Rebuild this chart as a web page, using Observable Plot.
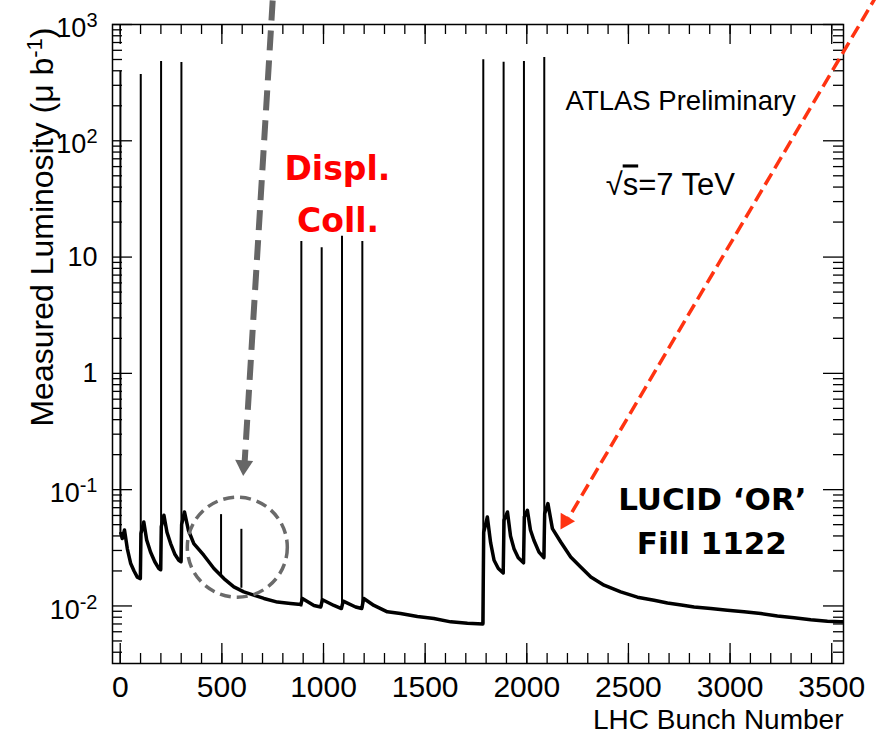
<!DOCTYPE html>
<html><head><meta charset="utf-8">
<script src="https://cdn.jsdelivr.net/npm/d3@7"></script>
<script src="https://cdn.jsdelivr.net/npm/@observablehq/plot@0.6"></script>
<style>
html,body{margin:0;padding:0;background:#fff;}
</style>
</head><body><div id="chart"></div>
<script>
// ---- Background (unpaired-bunch afterglow) curve ----
const bgBunch = [3,10,21,35,51,68,84,99,
  102,116,130,149,170,190,199,
  202,215,230,248,268,288,299,
  302,316,335,362,411,461,510,559,608,657,707,773,838,
  889,896,953,986,995,1051,1088,1097,1158,1188,1198,1248,1314,1379,1462,1543,1626,1708,1784,
  1788,1806,1822,1839,1860,1884,
  1888,1905,1920,1937,1958,1984,
  1988,2003,2018,2035,2060,2084,
  2088,2104,2126,2167,2216,2265,2315,2380,2462,2544,2626,2692,2760,2823,2905,2987,3069,3151,3233,3315,3397,3479,3545,3558];
const bgLumi = [0.042,0.038,0.045,0.031,0.0233,0.020,0.0177,0.0172,
  0.042,0.0527,0.037,0.0291,0.024,0.0210,0.0205,
  0.048,0.0603,0.043,0.0344,0.028,0.0247,0.0240,
  0.050,0.0643,0.045,0.0344,0.0273,0.0210,0.0172,0.0146,0.0132,0.0124,0.0116,0.0108,0.0105,
  0.0103,0.0116,0.0101,0.0098,0.0113,0.0101,0.0095,0.0110,0.0098,0.0095,0.0116,0.0101,0.0089,0.0086,0.0081,0.0078,0.0073,0.0071,0.0070,
  0.043,0.0582,0.035,0.0247,0.021,0.0192,
  0.0546,0.0643,0.040,0.0311,0.026,0.0235,
  0.0582,0.0665,0.045,0.0367,0.029,0.026,
  0.0622,0.0759,0.0462,0.0355,0.0264,0.0216,0.0177,0.0151,0.0132,0.0119,0.0112,0.0106,0.0102,0.0098,0.0095,0.0092,0.0089,0.0086,0.0082,0.0079,0.0076,0.0074,0.0073,0.0073];

// ---- Single-bunch spikes (colliding / displaced / small) ----
const spikeBunch = [1,101,201,301,496,596,891,991,1091,1191,1786,1886,1986,2086];
const spikePeak  = [397,372,481,471,0.061,0.0456,13.6,12.0,15.1,13.6,497,474,481,520];
const spikeBase  = [0.042,0.0172,0.0205,0.024,0.0177,0.0142,0.0098,0.0098,0.0095,0.0095,0.0070,0.0192,0.0235,0.026];

// ---- Axis ticks ----
const xMajorTicks = [0,500,1000,1500,2000,2500,3000,3500];
const xMinorTicks = [0,100,200,300,400,500,600,700,800,900,1000,1100,1200,1300,1400,1500,1600,1700,1800,1900,2000,2100,2200,2300,2400,2500,2600,2700,2800,2900,3000,3100,3200,3300,3400,3500];
const yMajorTicks = [0.01,0.1,1,10,100,1000];
const yTickLabels = ["10^-2","10^-1","1","10","10^2","10^3"];
const yMinorMultipliers = [2,3,4,5,6,7,8,9];
const yMinorDecades = [0.001,0.01,0.1,1,10,100];

const xTitle = "LHC Bunch Number";
const yTitle = "Measured Luminosity (\u03BC b^-1)";

const background = bgBunch.map((b, i) => ({bunch: b, lumi: bgLumi[i]}));
const spikes = spikeBunch.map((b, i) => ({bunch: b, peak: spikePeak[i], base: spikeBase[i]}));
const yMinorTicks = yMinorDecades.flatMap(d => yMinorMultipliers.map(m => +(d * m).toPrecision(3)))
  .filter(v => v >= 0.0032 && v <= 1000);

// ---- layout ----
const W = 877, H = 737, ML = 112, MR = 34, MT = 24, MB = 74;
const FW = W - ML - MR, FH = H - MT - MB;
const xDom = [-38, 3558], yDom = [0.0032, 1000];
const pxPerUnit = FW / (xDom[1] - xDom[0]);
const pxPerDecade = FH / Math.log10(yDom[1] / yDom[0]);
const one = [0];
const ident = d => d;
// inward tick marks (length in px converted through the scales' linear / log mapping)
const tickStyle = {stroke: "#000", strokeWidth: 1.3};
const xTickRule = (data, len, side) => {
  const f = Math.pow(10, len / pxPerDecade);
  const lo = side === "bottom" ? yDom[0] : yDom[1] / f;
  const hi = side === "bottom" ? yDom[0] * f : yDom[1];
  return Plot.ruleX(data, {x: ident, y1: () => lo, y2: () => hi, ...tickStyle});
};
const yTickRule = (data, len, side) => {
  const d = len / pxPerUnit;
  const lo = side === "left" ? xDom[0] : xDom[1] - d;
  const hi = side === "left" ? xDom[0] + d : xDom[1];
  return Plot.ruleY(data, {y: ident, x1: () => lo, x2: () => hi, ...tickStyle});
};

const plot = Plot.plot({
  width: W, height: H,
  marginLeft: ML, marginRight: MR, marginTop: MT, marginBottom: MB,
  x: {domain: xDom},
  y: {type: "log", domain: yDom},
  style: {fontFamily: "'Liberation Sans', Arial, sans-serif", background: "#fff", overflow: "visible", color: "#000"},
  marks: [
    Plot.line(background, {x: "bunch", y: "lumi", stroke: "#000", strokeWidth: 3.5, strokeLinejoin: "round", clip: true}),
    Plot.ruleX(spikes, {x: "bunch", y1: "base", y2: "peak", stroke: "#000", strokeWidth: 2, clip: true}),
    xTickRule(xMajorTicks, 20, "bottom"),
    xTickRule(xMinorTicks, 10, "bottom"),
    xTickRule(xMajorTicks, 20, "top"),
    xTickRule(xMinorTicks, 10, "top"),
    yTickRule(yMajorTicks, 20, "left"),
    yTickRule(yMinorTicks, 10, "left"),
    yTickRule(yMajorTicks, 20, "right"),
    yTickRule(yMinorTicks, 10, "right"),
    Plot.frame({stroke: "#000", strokeWidth: 1.5}),
    // tick labels
    Plot.axisX(xMajorTicks, {anchor: "bottom", tickSize: 0, tickPadding: 12, fontSize: 30, tickFormat: d => String(d), label: null}),
    Plot.axisY(yMajorTicks, {anchor: "left", tickSize: 0, tickPadding: 15, fontSize: 27, tickFormat: d => yTickLabels[yMajorTicks.indexOf(d)], label: null}),
    // axis titles
    Plot.text([xTitle], {frameAnchor: "bottom-right", text: ident, textAnchor: "end", lineAnchor: "bottom", dy: 65, fontSize: 28}),
    Plot.text([yTitle], {frameAnchor: "top-left", text: ident, textAnchor: "end", rotate: -90, dx: -82, dy: 3, fontSize: 32}),
    // annotations
    Plot.text(["ATLAS Preliminary"], {x: 2191, y: 185, text: ident, textAnchor: "start", lineAnchor: "bottom", fontSize: 27.5}),
    Plot.text(["\u221As=7 TeV"], {x: 2388, y: 33.9, text: ident, textAnchor: "start", lineAnchor: "bottom", fontSize: 31}),
    Plot.text(["Displ."], {x: 1068, y: 45.6, text: ident, lineAnchor: "bottom", fontSize: 33, fontWeight: "bold", fill: "#ff0000", fontFamily: "'DejaVu Sans', sans-serif"}),
    Plot.text(["Coll."], {x: 1072, y: 16.4, text: ident, lineAnchor: "bottom", fontSize: 33, fontWeight: "bold", fill: "#ff0000", fontFamily: "'DejaVu Sans', sans-serif"}),
    Plot.text(["LUCID \u2018OR\u2019"], {x: 2913, y: 0.0666, text: ident, lineAnchor: "bottom", fontSize: 31, fontWeight: "bold", fill: "#000", fontFamily: "'DejaVu Sans', sans-serif"}),
    Plot.text(["Fill 1122"], {x: 2910, y: 0.0282, text: ident, lineAnchor: "bottom", fontSize: 31, fontWeight: "bold", fill: "#000", fontFamily: "'DejaVu Sans', sans-serif"}),
    // dashed circle around the small spikes
    Plot.dot(one, {x: () => 576, y: () => 0.032, r: 50, fill: "none", stroke: "#6a6a6a", strokeWidth: 3.5, strokeDasharray: "11,6"}),
    // gray dashed arrow
    Plot.link(one, {x1: () => 750, y1: () => 1608, x2: () => 612, y2: () => 0.172, stroke: "#666", strokeWidth: 6, strokeDasharray: "20,10"}),
    Plot.dot(one, {x: () => 608, y: () => 0.161, symbol: "triangle", r: 6.7, fill: "#666", stroke: "none", rotate: 183.5}),
    // red dashed arrow
    Plot.link(one, {x1: () => 3727, y1: () => 1846, x2: () => 2206, y2: () => 0.0573, stroke: "#ff3311", strokeWidth: 3.5, strokeDasharray: "13,6"}),
    Plot.dot(one, {x: () => 2190, y: () => 0.0535, symbol: "triangle", r: 6.2, fill: "#ff3311", stroke: "none", rotate: 210.6})
  ]
});

// superscript helper: "base^sup rest"
const NS = "http://www.w3.org/2000/svg";
function supify(el, supSize, rise) {
  const s = el.textContent;
  const m = s.match(/^(.*?)\^(-?\d+)(.*)$/);
  if (!m) return false;
  el.textContent = "";
  const a = document.createElementNS(NS, "tspan"); a.textContent = m[1];
  const b = document.createElementNS(NS, "tspan"); b.textContent = m[2];
  b.setAttribute("font-size", supSize); b.setAttribute("dy", -rise);
  el.append(a, b);
  if (m[3]) {
    const c = document.createElementNS(NS, "tspan"); c.textContent = m[3];
    c.setAttribute("dy", rise); el.append(c);
  }
  return true;
}
plot.querySelectorAll("text").forEach(t => {
  const s = t.textContent;
  if (s.startsWith("10^")) {
    if (supify(t, 20, 10)) t.setAttribute("transform", (t.getAttribute("transform") || "") + " translate(0,4)");
  } else if (s.startsWith("Measured")) {
    supify(t, 22, 11);
  } else if (s.startsWith("\u221As")) {
    t.textContent = "";
    const a = document.createElementNS(NS, "tspan"); a.textContent = "\u221A";
    const b = document.createElementNS(NS, "tspan"); b.textContent = "s"; b.setAttribute("text-decoration", "overline");
    const c = document.createElementNS(NS, "tspan"); c.textContent = "=7 TeV";
    t.append(a, b, c);
  }
});
document.getElementById("chart").appendChild(plot);
</script>
</body></html>
